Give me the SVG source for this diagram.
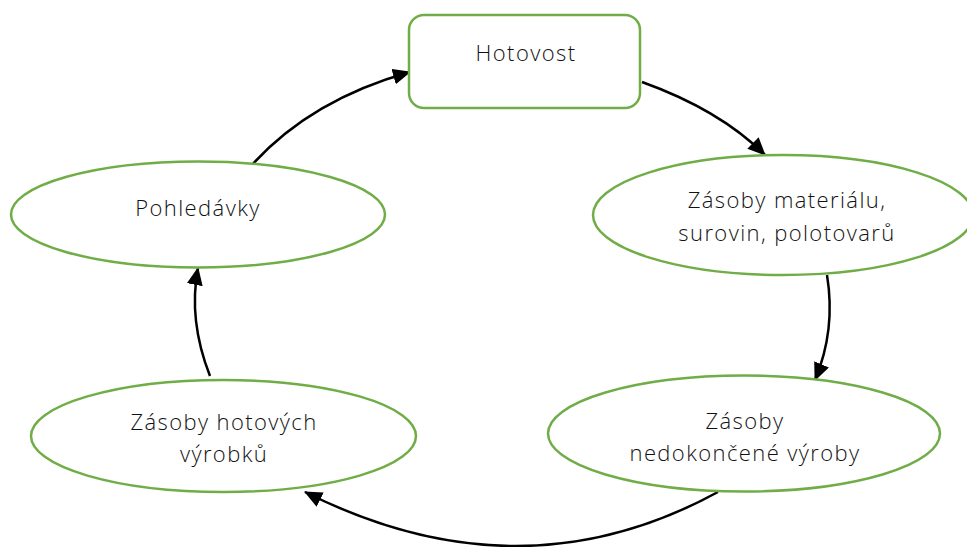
<svg xmlns="http://www.w3.org/2000/svg" width="967" height="547" viewBox="0 0 967 547">
<defs>
<style>
.node{fill:#fff;stroke:#70AD47;stroke-width:2.5}
.lbl{font-family:"Open Sans","Noto Sans","Liberation Sans",sans-serif;font-weight:300;font-size:22px;letter-spacing:1.4px;fill:#111;text-anchor:middle}
.edge{fill:none;stroke:#000;stroke-width:2.5}
</style>
<marker id="ah" markerUnits="userSpaceOnUse" markerWidth="18" markerHeight="16" viewBox="0 0 18 16" refX="17" refY="8" orient="auto">
<path d="M0,0 L18,8 L0,16 Z" fill="#000"/>
</marker>
</defs>
<rect width="967" height="547" fill="#fff"/>
<g id="connectors">
<path class="edge" d="M642,82 Q720,110 765,155" marker-end="url(#ah)"/>
<path class="edge" d="M827,275 Q836,330 815,380" marker-end="url(#ah)"/>
<path class="edge" d="M718,492 Q520,600 305,492" marker-end="url(#ah)"/>
<path class="edge" d="M210,376 Q188,320 198,268" marker-end="url(#ah)"/>
<path class="edge" d="M251,166 Q310,100 410,72" marker-end="url(#ah)"/>
</g>
<g id="hotovost">
<rect class="node" x="409" y="15" width="231" height="93" rx="15"/>
<text class="lbl" x="526" y="61">Hotovost</text>
</g>
<g id="zasoby-materialu">
<ellipse class="node" cx="783" cy="215" rx="190" ry="60"/>
<text class="lbl" x="787" y="208">Zásoby materiálu,</text>
<text class="lbl" x="787" y="241">surovin, polotovarů</text>
</g>
<g id="nedokoncene">
<ellipse class="node" cx="744" cy="433.5" rx="196" ry="58"/>
<text class="lbl" x="745" y="429">Zásoby</text>
<text class="lbl" x="745" y="461">nedokončené výroby</text>
</g>
<g id="hotove-vyrobky">
<ellipse class="node" cx="223.5" cy="436" rx="192.5" ry="56"/>
<text class="lbl" x="224" y="430">Zásoby hotových</text>
<text class="lbl" x="224" y="462">výrobků</text>
</g>
<g id="pohledavky">
<ellipse class="node" cx="198" cy="214.5" rx="187" ry="53"/>
<text class="lbl" x="198" y="216">Pohledávky</text>
</g>
</svg>
